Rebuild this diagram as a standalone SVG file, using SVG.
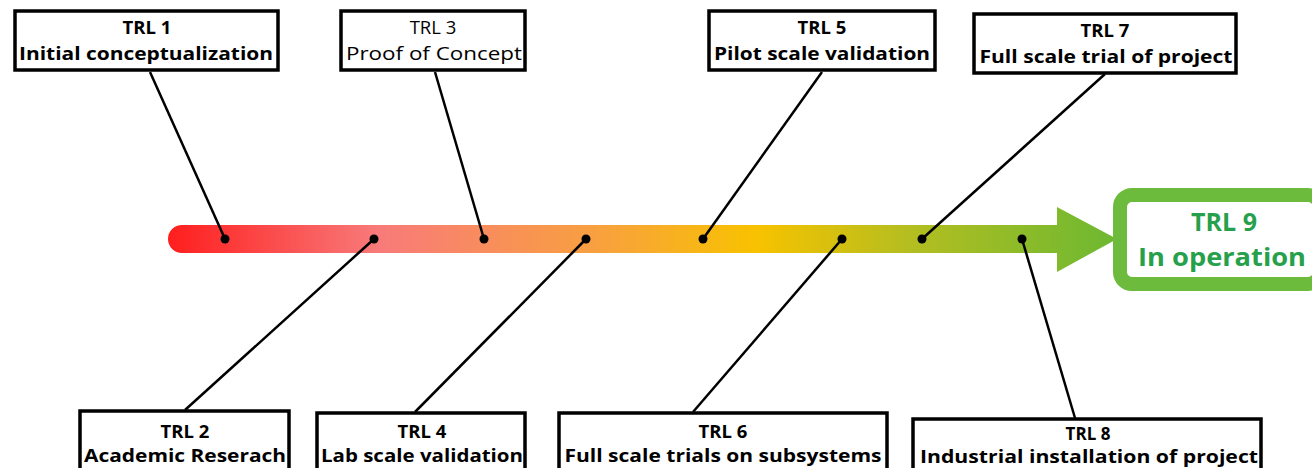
<svg xmlns="http://www.w3.org/2000/svg" width="1312" height="468" viewBox="0 0 1312 468">
<defs>
<linearGradient id="bar" x1="168" y1="0" x2="1118" y2="0" gradientUnits="userSpaceOnUse">
<stop offset="0" stop-color="#ff1e1e"/>
<stop offset="0.22" stop-color="#f87a7a"/>
<stop offset="0.45" stop-color="#f8a040"/>
<stop offset="0.62" stop-color="#f8c200"/>
<stop offset="0.78" stop-color="#b4be20"/>
<stop offset="1" stop-color="#6cb832"/>
</linearGradient>
<style>
.box{fill:#fff;stroke:#000;stroke-width:3.5}
.t{font-family:"Open Sans","Liberation Sans",sans-serif;font-size:18.5px;fill:#000;text-anchor:middle}
.s{font-size:17px}
.b{font-weight:bold}
.ln{stroke:#000;stroke-width:2.5;fill:none}
.dot{fill:#000}
.g{font-family:"Open Sans","Liberation Sans",sans-serif;font-size:25px;font-weight:bold;fill:#27a04c;text-anchor:middle}
</style>
</defs>
<rect width="1312" height="468" fill="#fff"/>
<g id="timeline">
<path d="M182,225 H1057 V207 L1117,239 L1057,272 V253 H182 A14,14 0 0 1 182,225 Z" fill="url(#bar)"/>
</g>
<g id="connectors">
<line class="ln" x1="150" y1="72" x2="225" y2="239"/>
<line class="ln" x1="435" y1="72" x2="484" y2="239"/>
<line class="ln" x1="822" y1="72" x2="703" y2="239"/>
<line class="ln" x1="1105" y1="74" x2="922" y2="239"/>
<line class="ln" x1="374" y1="239" x2="185" y2="410"/>
<line class="ln" x1="586" y1="239" x2="415" y2="412"/>
<line class="ln" x1="842" y1="239" x2="693" y2="412"/>
<line class="ln" x1="1022" y1="239" x2="1075" y2="418"/>
<circle class="dot" cx="225" cy="239" r="4.5"/>
<circle class="dot" cx="374" cy="239" r="4.5"/>
<circle class="dot" cx="484" cy="239" r="4.5"/>
<circle class="dot" cx="586" cy="239" r="4.5"/>
<circle class="dot" cx="703" cy="239" r="4.5"/>
<circle class="dot" cx="842" cy="239" r="4.5"/>
<circle class="dot" cx="922" cy="239" r="4.5"/>
<circle class="dot" cx="1022" cy="239" r="4.5"/>
</g>
<g id="trl1">
<rect class="box" x="15" y="11" width="263" height="59"/>
<text class="t b" x="147" y="34">TRL 1</text>
<text class="t b" x="146" y="60" textLength="254" lengthAdjust="spacingAndGlyphs">Initial conceptualization</text>
</g>
<g id="trl3">
<rect class="box" x="341" y="11" width="184" height="59"/>
<text class="t" x="433" y="34">TRL 3</text>
<text class="t" x="434" y="60" textLength="176" lengthAdjust="spacingAndGlyphs">Proof of Concept</text>
</g>
<g id="trl5">
<rect class="box" x="709" y="11" width="226" height="59"/>
<text class="t b" x="822" y="34">TRL 5</text>
<text class="t b" x="822" y="60" textLength="216" lengthAdjust="spacingAndGlyphs">Pilot scale validation</text>
</g>
<g id="trl7">
<rect class="box" x="974" y="14" width="262" height="59"/>
<text class="t b" x="1105" y="37">TRL 7</text>
<text class="t b" x="1106" y="63" textLength="253" lengthAdjust="spacingAndGlyphs">Full scale trial of project</text>
</g>
<g id="trl2">
<rect class="box" x="80" y="411" width="209" height="70"/>
<text class="t b" x="185" y="438">TRL 2</text>
<text class="t b" x="185" y="462" textLength="202" lengthAdjust="spacingAndGlyphs">Academic Reserach</text>
</g>
<g id="trl4">
<rect class="box" x="317" y="413" width="208" height="70"/>
<text class="t b" x="422" y="438">TRL 4</text>
<text class="t b" x="422" y="462" textLength="202" lengthAdjust="spacingAndGlyphs">Lab scale validation</text>
</g>
<g id="trl6">
<rect class="box" x="559" y="413" width="328" height="70"/>
<text class="t b" x="723" y="438">TRL 6</text>
<text class="t b" x="723" y="462" textLength="317" lengthAdjust="spacingAndGlyphs">Full scale trials on subsystems</text>
</g>
<g id="trl8">
<rect class="box" x="913" y="419" width="348" height="70"/>
<text class="t b s" x="1088" y="440">TRL 8</text>
<text class="t b s" x="1089" y="463" textLength="338" lengthAdjust="spacingAndGlyphs">Industrial installation of project</text>
</g>
<g id="trl9">
<rect x="1120" y="195" width="200" height="89" rx="12" fill="#fff" stroke="#6cbb3c" stroke-width="14"/>
<text class="g" x="1224" y="231">TRL 9</text>
<text class="g" x="1222" y="266" textLength="168" lengthAdjust="spacingAndGlyphs">In operation</text>
</g>
</svg>
